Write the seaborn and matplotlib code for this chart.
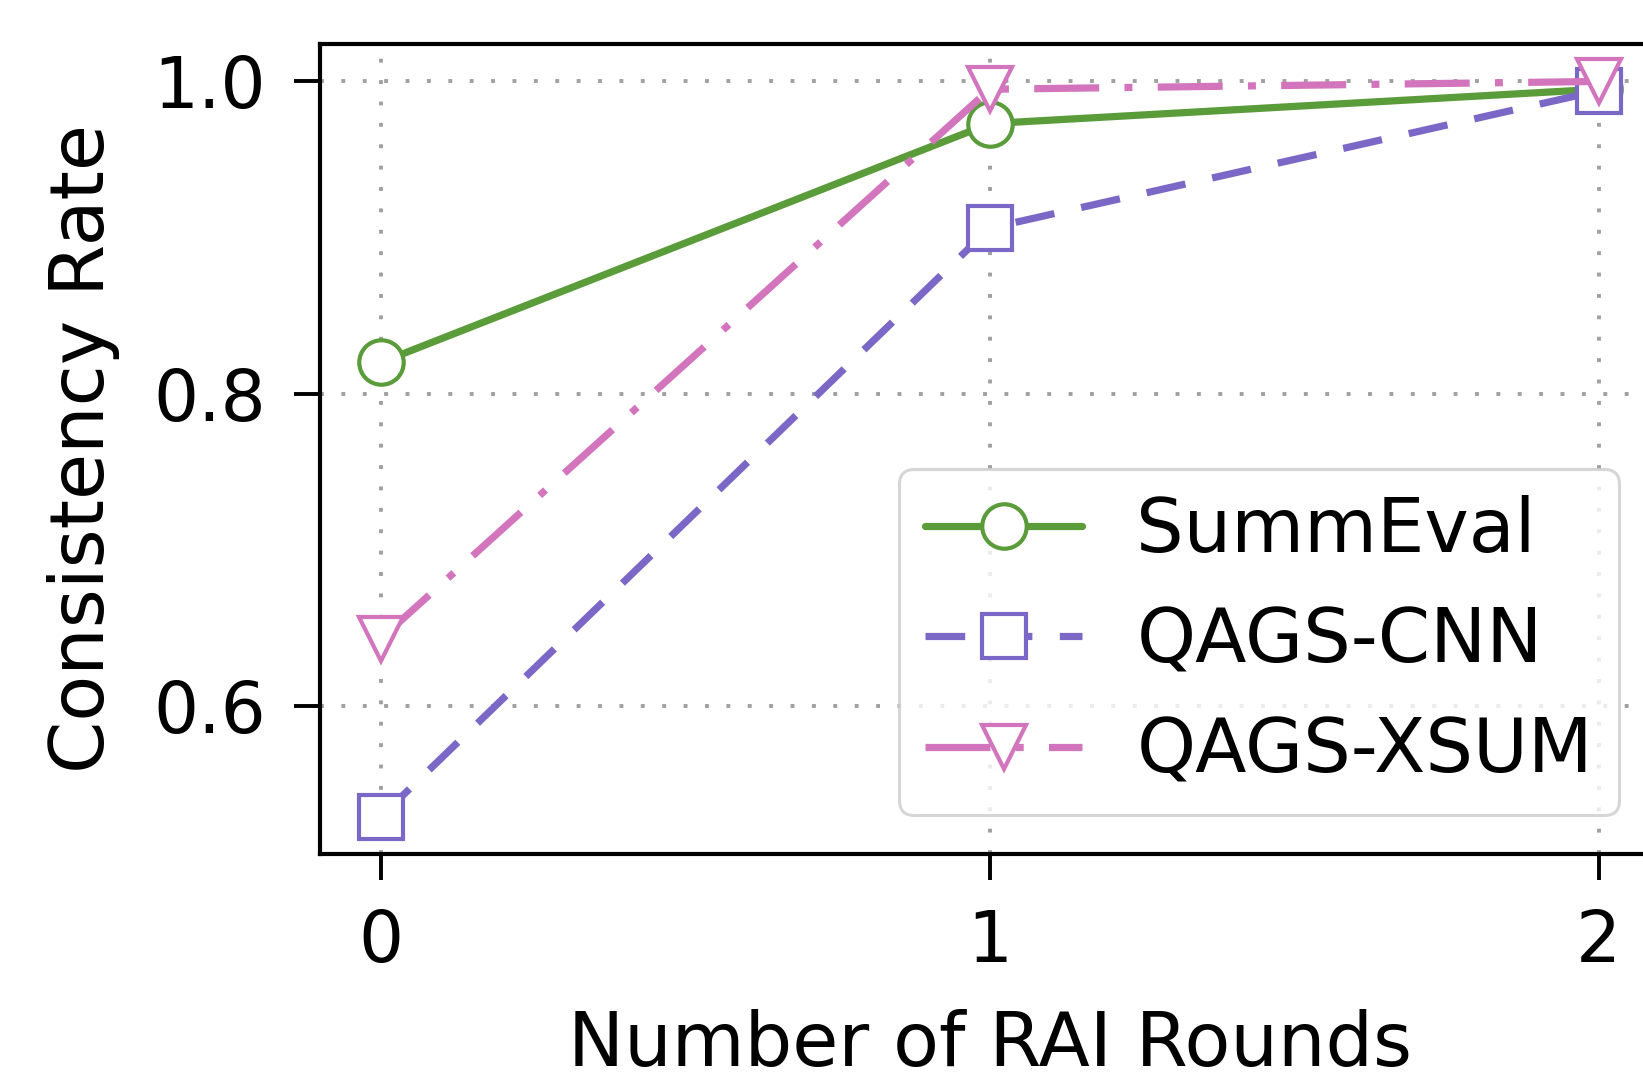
import matplotlib
matplotlib.use("Agg")
import matplotlib.pyplot as plt
import seaborn as sns
import pandas as pd

rounds = [0, 1, 2]
summeval = [0.820, 0.973, 0.995]
qags_cnn = [0.529, 0.906, 0.994]
qags_xsum = [0.643, 0.995, 1.000]

series_names = ["SummEval", "QAGS-CNN", "QAGS-XSUM"]
colors = ["#5a9b3a", "#7b68c6", "#d275bd"]
markers = ["o", "s", "v"]
line_styles = ["-", (0, (5.5, 3.8)), (0, (9, 3.5, 1.1, 3.5))]

df = pd.DataFrame({
    "round": rounds * 3,
    "rate": summeval + qags_cnn + qags_xsum,
    "dataset": [n for n in series_names for _ in rounds],
})

sns.set_style("ticks", {"axes.edgecolor": "black", "text.color": "black",
                        "axes.labelcolor": "black", "xtick.color": "black",
                        "ytick.color": "black"})
plt.rcParams["font.family"] = ["DejaVu Sans"]
plt.rcParams["axes.linewidth"] = 3.0

fig = plt.figure(figsize=(16.43, 10.89), dpi=100)
ax = fig.add_axes([0.1948, 0.2158, 0.8152, 0.7438])

for name, col, mk, ls in zip(series_names, colors, markers, line_styles):
    sub = df[df["dataset"] == name]
    sns.lineplot(data=sub, x="round", y="rate", ax=ax, color=col, linestyle=ls,
                 linewidth=5.2, marker=mk, markersize=32, markerfacecolor="white",
                 markeredgecolor=col, markeredgewidth=3.0, label=name)

# make sure the line width sticks
for ln in ax.lines:
    ln.set_linewidth(5.2)

ax.set_xlim(-0.1, 2.1)
ax.set_ylim(0.505, 1.024)
ax.set_xticks([0, 1, 2])
ax.set_yticks([0.6, 0.8, 1.0])
ax.set_xticklabels(["0", "1", "2"])
ax.set_yticklabels(["0.6", "0.8", "1.0"])
ax.grid(True, linestyle=(0, (1, 4.5)), color="#a0a0a0", linewidth=2.8)
ax.tick_params(labelsize=51, width=2.8, length=19, pad=20)
ax.set_xlabel("Number of RAI Rounds", fontsize=54, labelpad=23)
ax.set_ylabel("Consistency Rate", fontsize=54, labelpad=24)

leg = ax.legend(loc="lower right", fontsize=54, frameon=True, handlelength=2.1,
                borderpad=0.35, labelspacing=0.5, handletextpad=0.72,
                borderaxespad=0, bbox_to_anchor=(0.970, 0.048))
leg.get_frame().set_linewidth(2.2)
leg.get_frame().set_edgecolor("#cccccc")

fig.savefig("out.png", dpi=100)
